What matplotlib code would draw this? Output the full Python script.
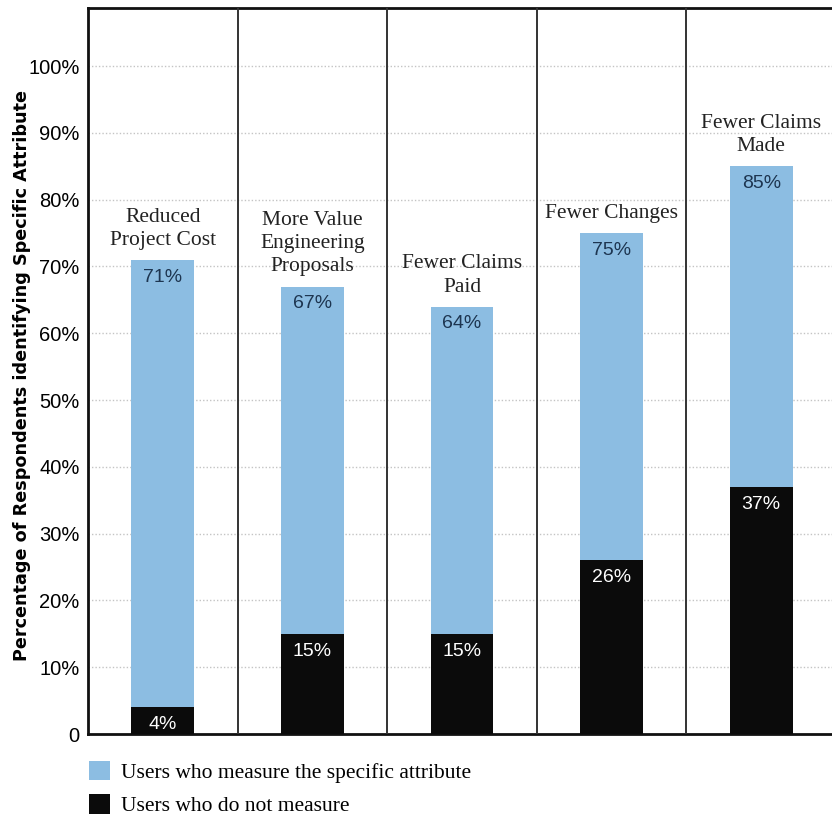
import matplotlib.pyplot as plt
import numpy as np

# survey results, percent of respondents
categories = ["Reduced\nProject Cost", "More Value\nEngineering\nProposals",
              "Fewer Claims\nPaid", "Fewer Changes", "Fewer Claims\nMade"]
measure = [71, 67, 64, 75, 85]
not_measure = [4, 15, 15, 26, 37]
yticks = [0, 10, 20, 30, 40, 50, 60, 70, 80, 90, 100]
ytick_labels = ["0"] + ["%d%%" % v for v in yticks[1:]]

blue = "#8cbde2"
black = "#0b0b0b"
serif = ["Liberation Serif", "DejaVu Serif"]
sans = ["Liberation Sans", "DejaVu Sans"]

fig = plt.figure(figsize=(8.32, 8.18), dpi=100)
ax = fig.add_axes([88 / 832, 1 - 734 / 818, 748 / 832, 726 / 818])

x = np.arange(len(categories))
w = 0.42
b1 = ax.bar(x, measure, w, color=blue, zorder=2,
            label="Users who measure the specific attribute")
b2 = ax.bar(x, not_measure, w, color=black, zorder=3,
            label="Users who do not measure")

for xi, m, n, cat in zip(x, measure, not_measure, categories):
    ax.text(xi, m - 2.6, "%d%%" % m, ha="center", va="center", fontsize=14,
            color="#1d3550", family=sans, zorder=4)
    ax.text(xi, n - 2.6, "%d%%" % n, ha="center", va="center", fontsize=14,
            color="white", family=sans, zorder=4)
    ax.text(xi, m + 1.5, cat, ha="center", va="bottom", fontsize=15.5,
            color="#222222", family=serif, linespacing=1.3)

# panel separators
for s in x[:-1] + 0.5:
    ax.axvline(s, color="#333333", lw=1.4, zorder=5)

ax.set_xlim(-0.5, 4.5)
ax.set_ylim(0, 108.7)
ax.set_xticks([])
ax.set_yticks(yticks)
ax.set_yticklabels(ytick_labels, family=sans, fontsize=14.5)
ax.tick_params(axis="y", length=0, pad=6)
ax.yaxis.grid(True, linestyle=(0, (1, 1.5)), color="#c4c4c4", lw=1, zorder=0)
for t in ax.yaxis.get_gridlines()[:1]:
    t.set_visible(False)

for side in ["left", "top", "bottom"]:
    ax.spines[side].set_linewidth(2)
    ax.spines[side].set_color("#111111")
ax.spines["right"].set_visible(False)

ax.set_ylabel("Percentage of Respondents identifying Specific Attribute",
              fontsize=12.7, fontweight="bold", family="DejaVu Sans")
ax.yaxis.set_label_coords(-0.076, 0.494)

fig.legend(handles=[b1, b2], loc="upper left", bbox_to_anchor=(80 / 832, 1 - 752 / 818),
           frameon=False, prop={"family": serif, "size": 15.5}, handlelength=1.0,
           handleheight=1.0, handletextpad=0.5, labelspacing=0.55, borderaxespad=0)

fig.savefig("out.png", dpi=100)
